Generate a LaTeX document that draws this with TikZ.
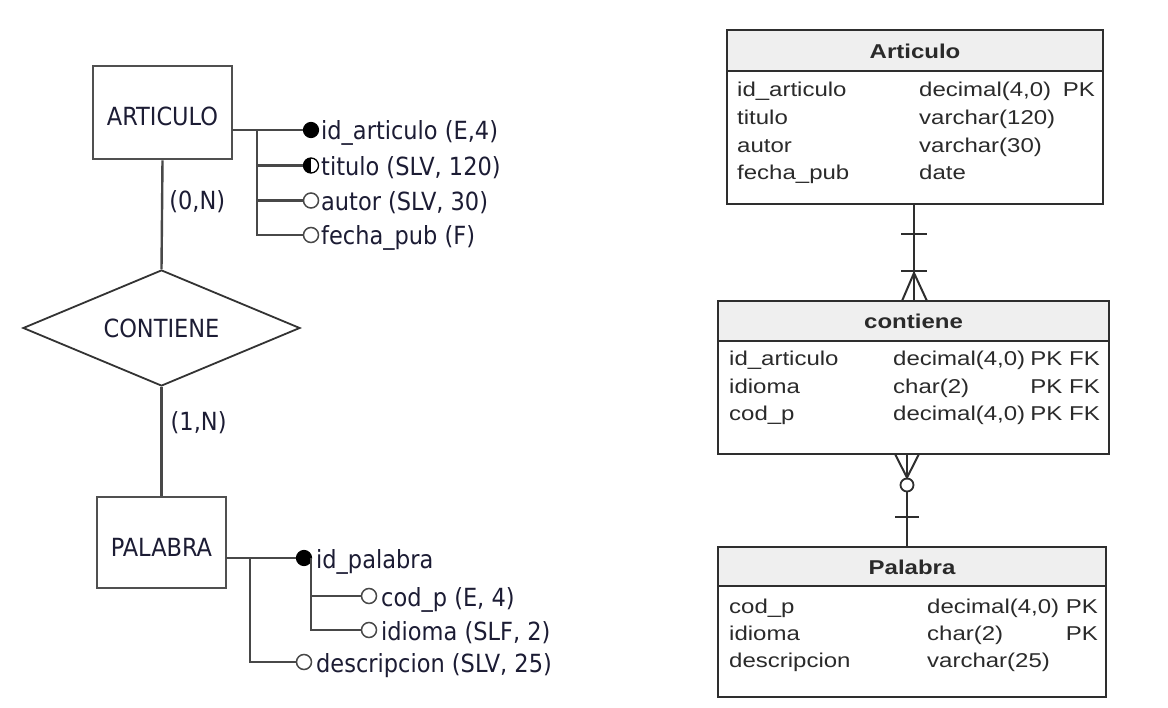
\documentclass[tikz,border=0pt]{standalone}
\usepackage{fontspec}
\usetikzlibrary{shapes.geometric,calc}
\newfontfamily\erfont{DejaVu Sans Condensed}
\newfontfamily\tabfont[FakeStretch=1.2]{Liberation Sans}
\definecolor{erln}{HTML}{484848}
\definecolor{erbx}{HTML}{505050}
\definecolor{ertx}{HTML}{1C1C34}
\definecolor{tbln}{HTML}{2E2E2E}
\definecolor{tbtx}{HTML}{2A2A2A}
\definecolor{tbhd}{HTML}{EFEFEF}
\tikzset{
  erent/.style={draw=erbx, line width=2.6pt, inner sep=0pt, text=ertx,
    font=\erfont\fontsize{25}{30}\selectfont, text height=27pt, text depth=0pt},
  errel/.style={diamond, aspect=2.39, draw=black!80, line width=1.8pt, inner sep=0pt, text=ertx,
    font=\erfont\fontsize{25}{30}\selectfont, minimum width=277pt, minimum height=116pt},
  erline/.style={draw=erln, line width=2.4pt},
  attrtxt/.style={anchor=base west, inner sep=0pt, text=ertx, font=\erfont\fontsize{25}{30}\selectfont},
  keyc/.style={circle, draw=black, fill=black, line width=1.2pt, minimum size=15pt, inner sep=0pt},
  optc/.style={circle, draw=erln, fill=white, line width=1.5pt, minimum size=15pt, inner sep=0pt},
  halfc/.style={circle, draw=black, fill=white, line width=1.3pt, minimum size=15pt, inner sep=0pt,
    path picture={\fill[black] (path picture bounding box.south west) rectangle (path picture bounding box.north);}},
  tbox/.style={draw=tbln, line width=2pt, inner sep=0pt},
  tline/.style={draw=tbln, line width=2pt},
  ttl/.style={anchor=base, inner sep=0pt, text=tbtx, font=\tabfont\bfseries\fontsize{20}{24}\selectfont},
  tcell/.style={anchor=base west, inner sep=0pt, text=tbtx, font=\tabfont\fontsize{20}{24}\selectfont},
  tkey/.style={anchor=base east, inner sep=0pt, text=tbtx, font=\tabfont\fontsize{20}{24}\selectfont},
  rel/.style={draw=tbln, line width=2pt},
}
\begin{document}
\begin{tikzpicture}[x=1pt,y=-1pt]
\useasboundingbox[fill=white] (0,0) rectangle (1168,708);

% ---------------- ER diagram (left) ----------------
\node[erent, minimum width=139pt, minimum height=93pt] (art) at (162.5,112.5) {ARTICULO};
\node[errel] (cont) at (161.5,328) {CONTIENE};
\node[erent, minimum width=129pt, minimum height=91pt] (pal) at (161.5,542.5) {PALABRA};

\draw[erline] (art.south) -- node[attrtxt, anchor=west, xshift=6pt, pos=0.38] (c1) {(0,N)} (cont.north);
\draw[erline] (cont.south) -- node[attrtxt, anchor=west, xshift=8pt, pos=0.33] (c2) {(1,N)} (pal.north);

% ARTICULO attributes
\coordinate (aa) at (232,130);
\coordinate (at) at (257,130);
\node[keyc]  (a1) at (311,130) {};
\node[halfc] (a2) at (311,165.5) {};
\node[optc]  (a3) at (311,200.5) {};
\node[optc]  (a4) at (311,235) {};
\draw[erline] (aa) -- (a1.west);
\draw[erline] (at) |- (a4.west);
\draw[erline] (at |- a2) -- (a2.west);
\draw[erline] (at |- a3) -- (a3.west);
\node[attrtxt] (l1) at (321,140) {id\_articulo (E,4)};
\node[attrtxt] (l2) at (321,175.5) {titulo (SLV, 120)};
\node[attrtxt] (l3) at (321,210.5) {autor (SLV, 30)};
\node[attrtxt] (l4) at (321,245) {fecha\_pub (F)};

% PALABRA attributes
\coordinate (pa) at (226,558);
\coordinate (pt) at (250,558);
\node[keyc] (p1) at (304,558) {};
\coordinate (ps) at (311,558);
\node[optc] (p2) at (369,596) {};
\node[optc] (p3) at (369,630) {};
\node[optc] (p4) at (304,662) {};
\draw[erline] (pa) -- (p1.west);
\draw[erline] (pt) |- (p4.west);
\draw[erline] (ps) |- (p3.west);
\draw[erline] (ps |- p2) -- (p2.west);
\node[attrtxt] (m1) at (316,568) {id\_palabra};
\node[attrtxt] (m2) at (381,606) {cod\_p (E, 4)};
\node[attrtxt] (m3) at (381,640) {idioma (SLF, 2)};
\node[attrtxt] (m4) at (316,672) {descripcion (SLV, 25)};

% ---------------- Relational tables (right) ----------------
% Articulo
\fill[tbhd] (727,30) rectangle (1103,71);
\node[tbox, minimum width=376pt, minimum height=174pt] (T1) at (915,117) {};
\draw[tline] (727,71) -- (1103,71);
\node[ttl] (T1h) at (915,59) {Articulo};
\node[tcell] at (737,97) {id\_articulo};
\node[tcell] at (919,97) {decimal(4,0)};
\node[tkey]  at (1095,97) {PK};
\node[tcell] at (737,125) {titulo};
\node[tcell] at (919,125) {varchar(120)};
\node[tcell] at (737,152.5) {autor};
\node[tcell] at (919,152.5) {varchar(30)};
\node[tcell] at (737,180) {fecha\_pub};
\node[tcell] at (919,180) {date};

% contiene
\fill[tbhd] (718,301) rectangle (1109,341);
\node[tbox, minimum width=391pt, minimum height=153pt] (T2) at (913.5,377.5) {};
\draw[tline] (718,341) -- (1109,341);
\node[ttl] (T2h) at (913.5,329) {contiene};
\node[tcell] at (729,366) {id\_articulo};
\node[tcell] at (893,366) {decimal(4,0)};
\node[tkey]  at (1100,366) {PK FK};
\node[tcell] at (729,393.5) {idioma};
\node[tcell] at (893,393.5) {char(2)};
\node[tkey]  at (1100,393.5) {PK FK};
\node[tcell] at (729,421) {cod\_p};
\node[tcell] at (893,421) {decimal(4,0)};
\node[tkey]  at (1100,421) {PK FK};

% Palabra
\fill[tbhd] (718,547) rectangle (1106,586);
\node[tbox, minimum width=388pt, minimum height=150pt] (T3) at (912,622) {};
\draw[tline] (718,586) -- (1106,586);
\node[ttl] (T3h) at (912,574) {Palabra};
\node[tcell] at (729,613) {cod\_p};
\node[tcell] at (927,613) {decimal(4,0)};
\node[tkey]  at (1098,613) {PK};
\node[tcell] at (729,640) {idioma};
\node[tcell] at (927,640) {char(2)};
\node[tkey]  at (1098,640) {PK};
\node[tcell] at (729,667) {descripcion};
\node[tcell] at (927,667) {varchar(25)};

% Connector Articulo -- contiene
\coordinate (x1) at (914,0);
\draw[rel] (T1.south -| x1) -- (T2.north -| x1);
\draw[rel] (901,234) -- (927,234);
\draw[rel] (901,271) -- (927,271);
\draw[rel] (902,301) -- (914,273) -- (927,301);

% Connector contiene -- Palabra
\coordinate (x2) at (907,0);
\node[circle, draw=tbln, fill=white, line width=1.8pt, minimum size=13pt, inner sep=0pt] (o2) at (907,485) {};
\draw[rel] (T2.south -| x2) -- (o2.north);
\draw[rel] (895,454) -- (o2.north) -- (919,454);
\draw[rel] (o2.south) -- (T3.north -| x2);
\draw[rel] (895,517) -- (919,517);
\end{tikzpicture}
\end{document}
